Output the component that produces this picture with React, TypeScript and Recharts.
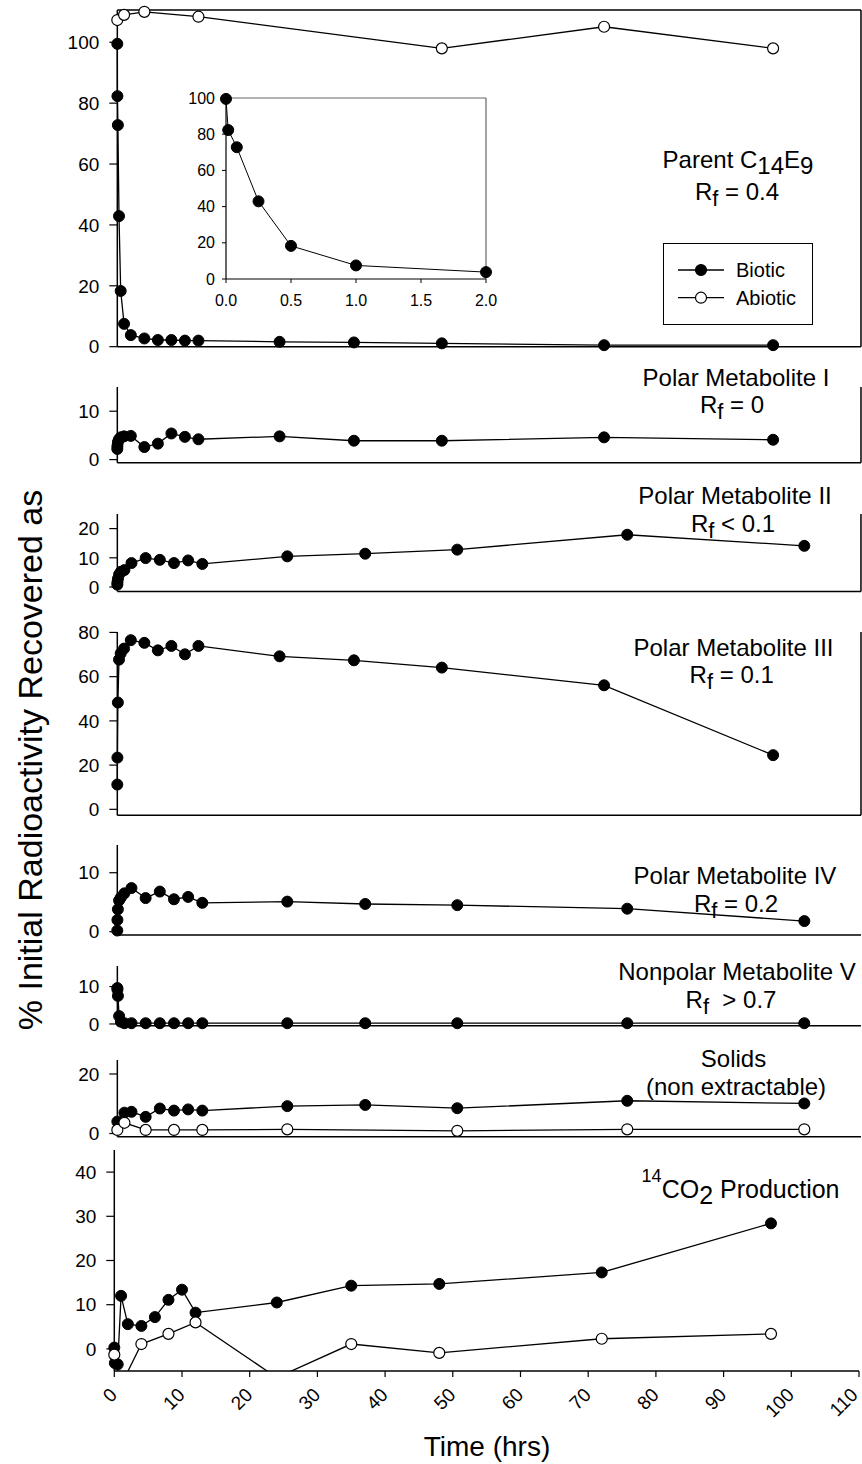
import React from "react";
import { LineChart, Line, XAxis, YAxis, ReferenceLine, Legend } from "recharts";

const FONT = "'Liberation Sans', Arial, Helvetica, sans-serif";

// sampling times (hrs) used by the extract fractions
const hours = [0, 0.017, 0.083, 0.25, 0.5, 1, 2, 4, 6, 8, 10, 12, 24, 35, 48, 72, 97];

const parentBiotic = [99.5, 82.3, 72.8, 42.9, 18.3, 7.5, 3.8, 2.7, 2.2, 2.2, 2.0, 2.0, 1.6, 1.4, 1.1, 0.5, 0.5];
const parentAbioticHours = [0, 1, 4, 12, 48, 72, 97];
const parentAbiotic = [107.3, 109, 110, 108.4, 98, 105.1, 98];

const polarI = [2.2, 2.8, 3.6, 4.2, 4.6, 4.8, 4.9, 2.6, 3.3, 5.4, 4.7, 4.2, 4.8, 3.9, 3.9, 4.6, 4.1];
const polarII = [0.8, 1.6, 2.8, 4.3, 5.2, 5.8, 8.2, 9.9, 9.3, 8.2, 9.1, 7.9, 10.5, 11.4, 12.8, 17.9, 14.1];
const polarIII = [11.2, 23.4, 48.3, 67.7, 70.5, 72.7, 76.5, 75.3, 71.9, 73.9, 70.1, 73.9, 69.2, 67.4, 64.1, 56.1, 24.5];
const polarIV = [0.2, 2.0, 3.8, 5.3, 5.8, 6.5, 7.4, 5.7, 6.8, 5.5, 5.9, 4.9, 5.1, 4.7, 4.5, 3.9, 1.8];
const nonpolarV = [9.6, 9.2, 7.5, 2.1, 0.6, 0.2, 0.2, 0.2, 0.2, 0.2, 0.2, 0.2, 0.2, 0.2, 0.2, 0.2, 0.2];

const solidsBioticHours = [0, 1, 2, 4, 6, 8, 10, 12, 24, 35, 48, 72, 97];
const solidsBiotic = [4.0, 7.0, 7.3, 5.6, 8.4, 7.7, 8.1, 7.7, 9.2, 9.6, 8.5, 11.0, 10.1];
const solidsAbioticHours = [0, 1, 4, 8, 12, 24, 48, 72, 97];
const solidsAbiotic = [1.2, 3.6, 1.2, 1.2, 1.2, 1.4, 0.9, 1.4, 1.4];

const co2BioticHours = [0, 0.083, 0.5, 1, 2, 4, 6, 8, 10, 12, 24, 35, 48, 72, 97];
const co2Biotic = [0.3, -3.2, -3.5, 12.0, 5.6, 5.2, 7.2, 11.1, 13.4, 8.2, 10.5, 14.3, 14.7, 17.3, 28.4];
const co2AbioticHours = [0, 1, 4, 8, 12, 24, 35, 48, 72, 97];
const co2Abiotic = [-1.3, -8.2, 1.1, 3.4, 6.0, -6.5, 1.1, -0.9, 2.3, 3.4];

const xTicks110 = [0, 10, 20, 30, 40, 50, 60, 70, 80, 90, 100, 110];
const xTicks100 = [0, 10, 20, 30, 40, 50, 60, 70, 80, 90, 100];
const insetXTicks = [0, 0.5, 1, 1.5, 2];
const legendOrder = ["Biotic", "Abiotic"];

const pts = (ts: number[], vs: number[]) => ts.map((t, i) => ({ t, v: vs[i] }));

const axisLine = { stroke: "#000", strokeWidth: 1.5 };
const tickLine = { stroke: "#000", strokeWidth: 1.2 };
const tickFont = { fontSize: 19, fill: "#000", fontFamily: FONT };

const filledDot = { r: 5.5, fill: "#000", stroke: "#000", strokeWidth: 1 };
const openDot = { r: 5.5, fill: "#fff", stroke: "#000", strokeWidth: 1.2 };

type Series = { name: string; data: { t: number; v: number }[]; open?: boolean };

const RotatedTick = (props: any) => {
  const { x, y, payload } = props;
  const ax = Math.min(x + 4, 859);
  const ay = y + 17;
  return (
    <text x={ax} y={ay} transform={`rotate(-45, ${ax}, ${ay})`} textAnchor="end" fontSize={19} fontFamily={FONT} fill="#000">
      {payload.value}
    </text>
  );
};

const renderLegend = (props: any) => {
  const payload = [...(props.payload || [])].sort(
    (a: any, b: any) => legendOrder.indexOf(a.value) - legendOrder.indexOf(b.value)
  );
  return (
    <svg width={150} height={82} style={{ display: "block" }}>
      <rect x={0.5} y={0.5} width={149} height={81} fill="#fff" stroke="#000" strokeWidth={1} />
      {payload.map((entry: any, i: number) => {
        const cy = 27 + i * 27.7;
        const open = entry.value === "Abiotic";
        return (
          <g key={entry.value}>
            <line x1={15} x2={61} y1={cy} y2={cy} stroke="#000" strokeWidth={1.3} />
            <circle cx={38} cy={cy} r={5.5} fill={open ? "#fff" : "#000"} stroke="#000" strokeWidth={1.2} />
            <text x={73} y={cy} dy="0.35em" fontSize={20} fontFamily={FONT} fill="#000">
              {entry.value}
            </text>
          </g>
        );
      })}
    </svg>
  );
};

const Panel = (props: any) => {
  const { top, bottom, left = 117.3, right = 861, xMax, yDomain, yTicks, series, frame, rightLine, xLabels, clip, children } = props;
  const padTop = 14;
  const xh = xLabels ? 60 : 10;
  const h = padTop + (bottom - top) + xh;
  const xTicks = xMax >= 110 ? xTicks110 : xTicks100;
  return (
    <div style={{ position: "absolute", left: 0, top: top - padTop }}>
      <LineChart width={862} height={h} margin={{ top: padTop, right: 862 - right, bottom: 0, left: 0 }}>
        <XAxis
          type="number"
          dataKey="t"
          domain={[0, xMax]}
          ticks={xTicks}
          interval={0}
          height={xh}
          tickSize={6}
          tick={xLabels ? <RotatedTick /> : false}
          axisLine={axisLine}
          tickLine={tickLine}
        />
        <YAxis
          type="number"
          domain={yDomain}
          ticks={yTicks}
          interval={0}
          width={left}
          tickSize={8}
          tickMargin={10}
          tick={tickFont}
          axisLine={axisLine}
          tickLine={tickLine}
          allowDataOverflow={!!clip}
        />
        {frame && <ReferenceLine y={yDomain[1]} stroke="#000" strokeWidth={1.5} />}
        {(frame || rightLine) && <ReferenceLine x={xMax} stroke="#000" strokeWidth={1.5} />}
        {series.map((s: Series) => (
          <Line
            key={s.name}
            name={s.name}
            data={s.data}
            dataKey="v"
            stroke="#000"
            strokeWidth={1.3}
            dot={s.open ? openDot : filledDot}
            activeDot={false}
            isAnimationActive={false}
          />
        ))}
        {children}
      </LineChart>
    </div>
  );
};

const Title = ({ x, y, children, anchor = "middle", size = 24 }: any) => (
  <text x={x} y={y} fontSize={size} fontFamily={FONT} textAnchor={anchor} fill="#000">
    {children}
  </text>
);

const Rf = ({ x, y, rest }: any) => (
  <Title x={x} y={y}>
    R<tspan dy={6} fontSize={22}>f</tspan>
    <tspan dy={-6}>{rest}</tspan>
  </Title>
);

export default function App() {
  const inset = pts(hours, parentBiotic).filter((p) => p.t <= 2);
  return (
    <div style={{ position: "absolute", left: 0, top: 0, width: 862, height: 1464, background: "#fff" }}>
      <Panel
        top={10}
        bottom={346.7}
        xMax={110}
        yDomain={[0, 110.6]}
        yTicks={[0, 20, 40, 60, 80, 100]}
        frame
        series={[
          { name: "Biotic", data: pts(hours, parentBiotic) },
          { name: "Abiotic", data: pts(parentAbioticHours, parentAbiotic), open: true },
        ]}
      >
        <Legend
          layout="vertical"
          align="center"
          verticalAlign="middle"
          content={renderLegend}
          wrapperStyle={{ left: 663, top: 243.3 - 10 + 14, width: 150, height: 82 }}
        />
      </Panel>

      <div style={{ position: "absolute", left: 150, top: 88 }}>
        <LineChart width={360} height={221} margin={{ top: 10, right: 24, bottom: 0, left: 0 }}>
          <XAxis
            type="number"
            dataKey="t"
            domain={[0, 2]}
            ticks={insetXTicks}
            interval={0}
            height={30}
            tickSize={4}
            tickMargin={12}
            tickFormatter={(v: number) => v.toFixed(1)}
            tick={{ fontSize: 16, fill: "#000", fontFamily: FONT }}
            axisLine={{ stroke: "#000", strokeWidth: 1.2 }}
            tickLine={{ stroke: "#000", strokeWidth: 1 }}
          />
          <YAxis
            type="number"
            domain={[0, 100]}
            ticks={[0, 20, 40, 60, 80, 100]}
            interval={0}
            width={76}
            tickSize={4}
            tickMargin={7}
            tick={{ fontSize: 16, fill: "#000", fontFamily: FONT }}
            axisLine={{ stroke: "#000", strokeWidth: 1.2 }}
            tickLine={{ stroke: "#000", strokeWidth: 1 }}
          />
          <ReferenceLine y={100} stroke="#666" strokeWidth={1.2} />
          <ReferenceLine x={2} stroke="#666" strokeWidth={1.2} />
          <Line data={inset} dataKey="v" name="Biotic" stroke="#000" strokeWidth={1} dot={filledDot} activeDot={false} isAnimationActive={false} />
        </LineChart>
      </div>

      <Panel top={386.7} bottom={462.5} xMax={110} yDomain={[-0.66, 15]} yTicks={[0, 10]} rightLine
        series={[{ name: "Biotic", data: pts(hours, polarI) }]} />
      <Panel top={514.3} bottom={591.7} xMax={105} yDomain={[-1.5, 25]} yTicks={[0, 10, 20]} rightLine
        series={[{ name: "Biotic", data: pts(hours, polarII) }]} />
      <Panel top={631.7} bottom={815} xMax={110} yDomain={[-2.7, 80.2]} yTicks={[0, 20, 40, 60, 80]} rightLine
        series={[{ name: "Biotic", data: pts(hours, polarIII) }]} />
      <Panel top={845} bottom={935} xMax={105} yDomain={[-0.56, 14.7]} yTicks={[0, 10]}
        series={[{ name: "Biotic", data: pts(hours, polarIV) }]} />
      <Panel top={966} bottom={1025.7} xMax={105} yDomain={[-0.46, 15.5]} yTicks={[0, 10]}
        series={[{ name: "Biotic", data: pts(hours, nonpolarV) }]} />
      <Panel top={1060} bottom={1136.7} xMax={105} yDomain={[-1.07, 24.7]} yTicks={[0, 20]}
        series={[
          { name: "Biotic", data: pts(solidsBioticHours, solidsBiotic) },
          { name: "Abiotic", data: pts(solidsAbioticHours, solidsAbiotic), open: true },
        ]} />
      <Panel top={1150} bottom={1371} left={114.3} right={859} xMax={110} yDomain={[-5, 45]} yTicks={[0, 10, 20, 30, 40]} xLabels clip
        series={[
          { name: "Biotic", data: pts(co2BioticHours, co2Biotic) },
          { name: "Abiotic", data: pts(co2AbioticHours, co2Abiotic), open: true },
        ]} />

      <svg width={862} height={1464} style={{ position: "absolute", left: 0, top: 0, pointerEvents: "none" }}>
        <Title x={738} y={168}>
          Parent C<tspan dy={6}>14</tspan>
          <tspan dy={-6}>E</tspan>
          <tspan dy={6}>9</tspan>
        </Title>
        <Rf x={737} y={200} rest=" = 0.4" />

        <Title x={736} y={386}>Polar Metabolite I</Title>
        <Rf x={732} y={413} rest=" = 0" />

        <Title x={735} y={504}>Polar Metabolite II</Title>
        <Rf x={733} y={532} rest=" < 0.1" />

        <Title x={733.5} y={656}>Polar Metabolite III</Title>
        <Rf x={731.7} y={683} rest=" = 0.1" />

        <Title x={735} y={884}>Polar Metabolite IV</Title>
        <Rf x={736} y={912} rest=" = 0.2" />

        <Title x={737} y={980}>Nonpolar Metabolite V</Title>
        <Rf x={731} y={1008} rest={"\u00a0 > 0.7"} />

        <Title x={733.5} y={1067}>Solids</Title>
        <Title x={736} y={1095}>(non extractable)</Title>

        <Title x={641.6} y={1198} anchor="start" size={25}>
          <tspan dy={-16} fontSize={18}>14</tspan>
          <tspan dy={16}>CO</tspan>
          <tspan dy={6}>2</tspan>
          <tspan dy={-6}> Production</tspan>
        </Title>

        <text x={487} y={1456} fontSize={28} fontFamily={FONT} textAnchor="middle" fill="#000">
          Time (hrs)
        </text>
        <text transform="rotate(-90)" x={-760} y={42} fontSize={34} fontFamily={FONT} textAnchor="middle" fill="#000">
          % Initial Radioactivity Recovered as
        </text>
      </svg>
    </div>
  );
}
